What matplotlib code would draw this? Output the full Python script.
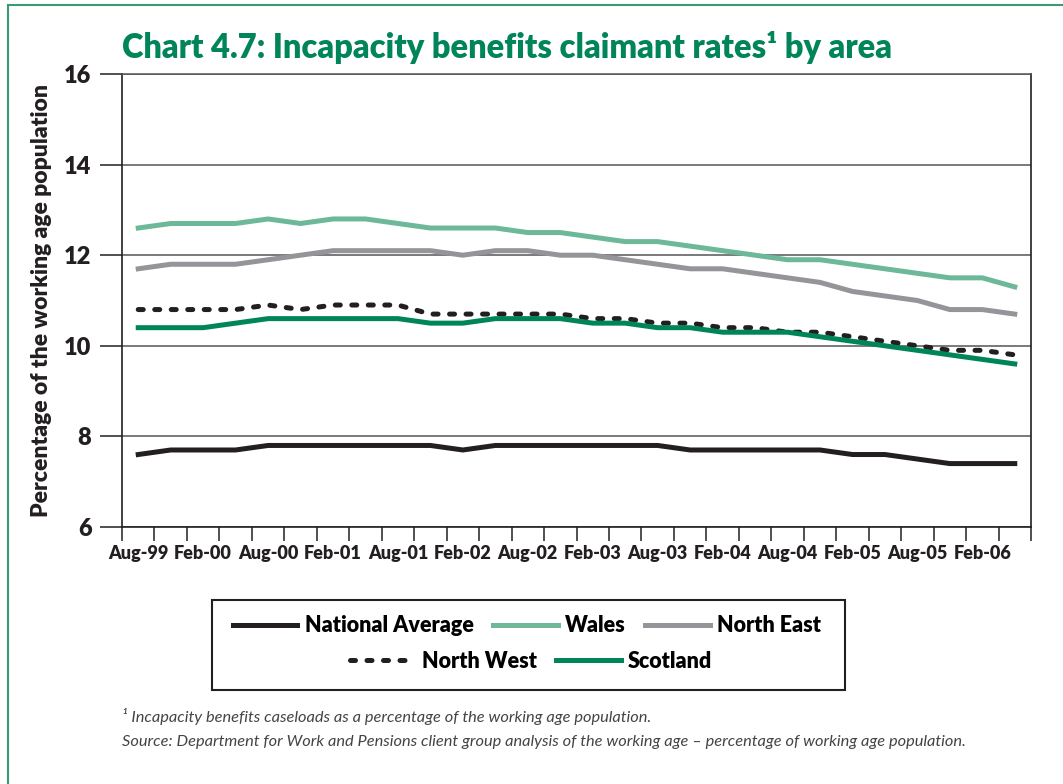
import numpy as np
import matplotlib
matplotlib.use('Agg')
import matplotlib.pyplot as plt
from matplotlib.lines import Line2D
from matplotlib.patches import Rectangle

plt.rcParams['font.family'] = ['Lato', 'DejaVu Sans']

# quarterly points, Aug-99 .. May-06
quarters = ["Aug-99", "Nov-99", "Feb-00", "May-00", "Aug-00", "Nov-00", "Feb-01", "May-01",
            "Aug-01", "Nov-01", "Feb-02", "May-02", "Aug-02", "Nov-02", "Feb-03", "May-03",
            "Aug-03", "Nov-03", "Feb-04", "May-04", "Aug-04", "Nov-04", "Feb-05", "May-05",
            "Aug-05", "Nov-05", "Feb-06", "May-06"]

national = [7.6, 7.7, 7.7, 7.7, 7.8, 7.8, 7.8, 7.8, 7.8, 7.8, 7.7, 7.8, 7.8, 7.8,
            7.8, 7.8, 7.8, 7.7, 7.7, 7.7, 7.7, 7.7, 7.6, 7.6, 7.5, 7.4, 7.4, 7.4]
wales = [12.6, 12.7, 12.7, 12.7, 12.8, 12.7, 12.8, 12.8, 12.7, 12.6, 12.6, 12.6, 12.5, 12.5,
         12.4, 12.3, 12.3, 12.2, 12.1, 12.0, 11.9, 11.9, 11.8, 11.7, 11.6, 11.5, 11.5, 11.3]
north_east = [11.7, 11.8, 11.8, 11.8, 11.9, 12.0, 12.1, 12.1, 12.1, 12.1, 12.0, 12.1, 12.1, 12.0,
              12.0, 11.9, 11.8, 11.7, 11.7, 11.6, 11.5, 11.4, 11.2, 11.1, 11.0, 10.8, 10.8, 10.7]
north_west = [10.8, 10.8, 10.8, 10.8, 10.9, 10.8, 10.9, 10.9, 10.9, 10.7, 10.7, 10.7, 10.7, 10.7,
              10.6, 10.6, 10.5, 10.5, 10.4, 10.4, 10.3, 10.3, 10.2, 10.1, 10.0, 9.9, 9.9, 9.8]
scotland = [10.4, 10.4, 10.4, 10.5, 10.6, 10.6, 10.6, 10.6, 10.6, 10.5, 10.5, 10.6, 10.6, 10.6,
            10.5, 10.5, 10.4, 10.4, 10.3, 10.3, 10.3, 10.2, 10.1, 10.0, 9.9, 9.8, 9.7, 9.6]

GREEN = '#00855A'
LIGHT_GREEN = '#6DB898'
GREY = '#939598'
BLACK = '#231F20'
BOLD = 'heavy'

fig = plt.figure(figsize=(10.63, 7.84), dpi=100)
ax = fig.add_axes([122 / 1063, 1 - 527 / 784, (1031 - 122) / 1063, (527 - 74) / 784])

x = np.arange(len(quarters))
lw = 3.6
ax.plot(x, national, color=BLACK, lw=lw, solid_joinstyle='round', label='National Average')
ax.plot(x, wales, color=LIGHT_GREEN, lw=lw, solid_joinstyle='round', label='Wales')
ax.plot(x, north_east, color=GREY, lw=lw, solid_joinstyle='round', label='North East')
ax.plot(x, north_west, color=BLACK, lw=lw, dashes=(1.0, 2.3), dash_capstyle='round',
        label='North West')
ax.plot(x, scotland, color=GREEN, lw=lw, solid_joinstyle='round', label='Scotland')

ax.set_xlim(-0.5, len(quarters) - 0.5)
ax.set_ylim(6, 16)
ax.set_yticks(np.arange(6, 17, 2))
ax.yaxis.grid(True, color='#555555', lw=1.1)
ax.set_axisbelow(True)

# labels every 6 months, tick marks between every quarter
ax.set_xticks(x[::2])
ax.set_xticklabels(quarters[::2], fontsize=13, fontweight=BOLD, color=BLACK)
ax.set_xticks(np.arange(-0.5, len(quarters), 1), minor=True)
ax.tick_params(axis='x', which='major', length=0, pad=13)
ax.tick_params(axis='x', which='minor', length=10, width=1.1, color=BLACK)
ax.tick_params(axis='y', length=16, width=1.1, color=BLACK, pad=6)
for lab in ax.get_yticklabels():
    lab.set_fontsize(17)
    lab.set_fontweight(BOLD)
    lab.set_color(BLACK)

for side in ['left', 'bottom', 'right']:
    ax.spines[side].set_color(BLACK)
    ax.spines[side].set_linewidth(1.2)
ax.spines['top'].set_color('#555555')
ax.spines['top'].set_linewidth(1.1)

ax.set_ylabel('Percentage of the working age population', fontsize=16.5, fontweight=BOLD,
              color=BLACK, labelpad=9)

fig.text(122 / 1063, 1 - 58 / 784, 'Chart 4.7: Incapacity benefits claimant rates\u00b9 by area',
         fontsize=23.5, fontweight=BOLD, color=GREEN, ha='left', va='baseline')

# legend: two rows inside one box
handles, labels = ax.get_legend_handles_labels()
leg_kw = dict(frameon=False, prop={'weight': BOLD, 'size': 15.5},
              handlelength=3.0, handletextpad=0.35, columnspacing=0.9)
leg1 = fig.legend(handles[:3], labels[:3], ncol=3, loc='center',
                  bbox_to_anchor=(527 / 1063, 1 - 626 / 784), **leg_kw)
leg2 = fig.legend(handles[3:], labels[3:], ncol=2, loc='center',
                  bbox_to_anchor=(531 / 1063, 1 - 661 / 784), **leg_kw)
fig.patches.append(Rectangle((212 / 1063, 1 - 690 / 784), (845 - 212) / 1063, 90 / 784,
                             transform=fig.transFigure, fill=False, edgecolor=BLACK, lw=1.5))

fig.text(122 / 1063, 1 - 722 / 784,
         '\u00b9 Incapacity benefits caseloads as a percentage of the working age population.',
         fontsize=11.8, fontstyle='italic', color='#444444')
fig.text(122 / 1063, 1 - 746 / 784,
         'Source: Department for Work and Pensions client group analysis of the working age '
         '\u2013 percentage of working age population.',
         fontsize=11.8, fontstyle='italic', color='#444444')

# green page border (left and top only)
fig.lines.append(Line2D([8 / 1063, 8 / 1063], [0, 1 - 5 / 784], transform=fig.transFigure,
                        color='#3A9A72', lw=1.5))
fig.lines.append(Line2D([8 / 1063, 1], [1 - 5 / 784, 1 - 5 / 784], transform=fig.transFigure,
                        color='#3A9A72', lw=1.5))

fig.savefig('out.png', dpi=100)
